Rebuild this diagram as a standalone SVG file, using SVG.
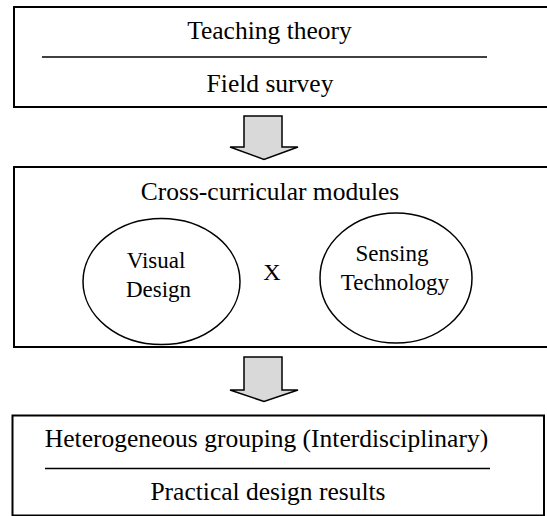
<svg xmlns="http://www.w3.org/2000/svg" width="547" height="516" viewBox="0 0 547 516">
<style>
.box{fill:#fff;stroke:#000;stroke-width:2}
.sep{stroke:#000;stroke-width:1.6}
.ell{fill:#fff;stroke:#000;stroke-width:1.5}
.arrow{fill:#d9d9d9;stroke:#000;stroke-width:1.5;stroke-linejoin:miter}
.t{font-family:"Liberation Serif","Times New Roman",serif;font-size:25.5px;fill:#000;text-anchor:middle}
.s{font-family:"Liberation Serif","Times New Roman",serif;font-size:23px;fill:#000;text-anchor:middle}
</style>
<rect width="547" height="516" fill="#fff"/>
<g id="box-theory">
<rect class="box" x="14" y="7" width="545" height="100"/>
<line class="sep" x1="42" y1="57" x2="487" y2="57"/>
<text class="t" x="269.5" y="38.5">Teaching theory</text>
<text class="t" x="270" y="92">Field survey</text>
</g>
<g id="box-modules">
<rect class="box" x="14" y="167" width="545" height="180"/>
<text class="t" x="270" y="200">Cross-curricular modules</text>
<g id="visual-design">
<ellipse class="ell" cx="161.5" cy="281.5" rx="78.5" ry="63"/>
<text class="s" x="156" y="268">Visual</text>
<text class="s" x="158.5" y="296.5">Design</text>
</g>
<text class="s" x="272" y="280" style="font-size:24px">X</text>
<g id="sensing-technology">
<ellipse class="ell" cx="396" cy="278" rx="76" ry="65"/>
<text class="s" x="392" y="261">Sensing</text>
<text class="s" x="395" y="289.5">Technology</text>
</g>
</g>
<g id="box-results">
<rect class="box" x="12.5" y="415.5" width="531.5" height="100"/>
<text class="t" x="266.5" y="446.5">Heterogeneous grouping (Interdisciplinary)</text>
<line class="sep" x1="45" y1="468.5" x2="490" y2="468.5"/>
<text class="t" x="268" y="500">Practical design results</text>
</g>
<g id="connectors">
<polygon class="arrow" points="244,116 282,116 282,147 298,147 264,159.5 230,147 244,147"/>
<polygon class="arrow" points="244,357 282,357 282,390 298,390 264,401.5 230,390 244,390"/>
</g>
</svg>
